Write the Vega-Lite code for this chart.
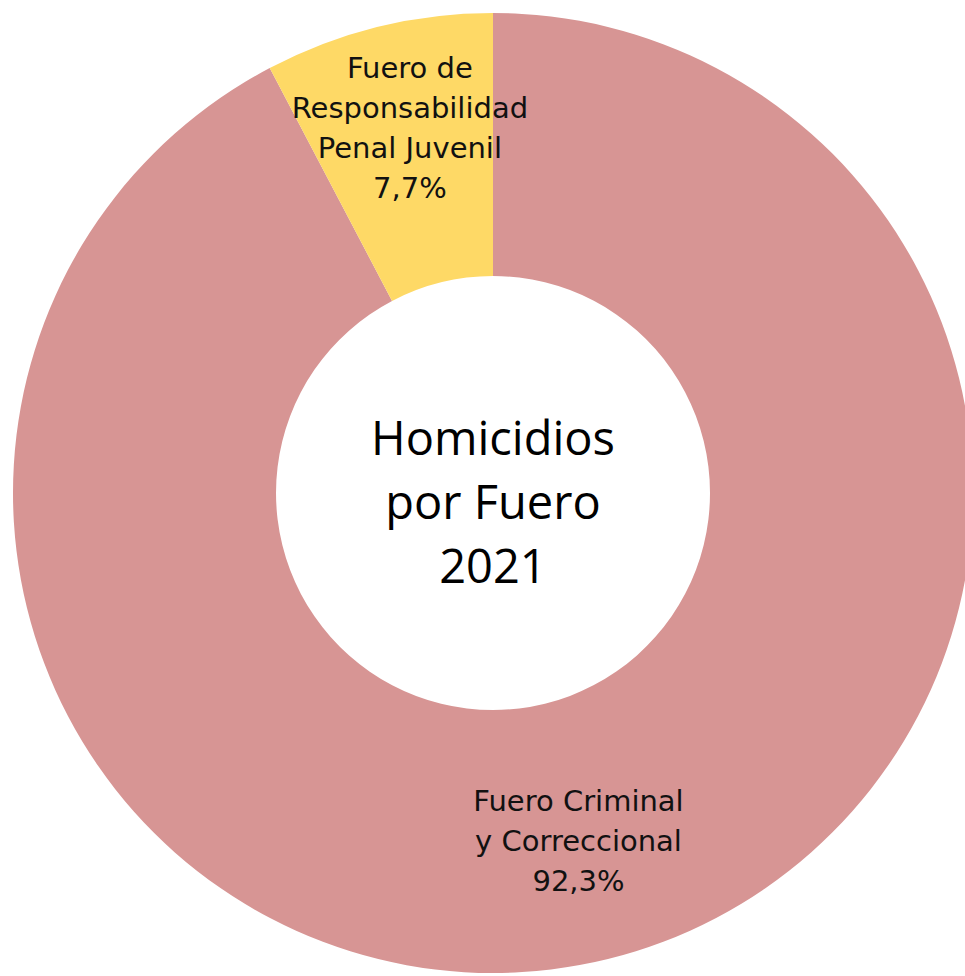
{
  "$schema": "https://vega.github.io/schema/vega-lite/v6.json",
  "width": 986,
  "height": 986,
  "padding": 0,
  "autosize": {"type": "none"},
  "background": "white",
  "view": {"stroke": null},
  "config": {"font": "DejaVu Sans"},
  "layer": [
    {
      "data": {"values": [
        {"fuero": "Fuero Criminal y Correccional", "orden": 1, "pct": 92.3, "etiqueta": ["Fuero Criminal", "y Correccional", "92,3%"]},
        {"fuero": "Fuero de Responsabilidad Penal Juvenil", "orden": 2, "pct": 7.7, "etiqueta": ["Fuero de", "Responsabilidad", "Penal Juvenil", "7,7%"]}
      ]},
      "layer": [
        {
          "mark": {"type": "arc", "outerRadius": 480, "innerRadius": 217},
          "encoding": {
            "theta": {"field": "pct", "type": "quantitative", "stack": true},
            "order": {"field": "orden", "type": "quantitative"},
            "color": {
              "field": "fuero", "type": "nominal", "legend": null,
              "scale": {"domain": ["Fuero Criminal y Correccional", "Fuero de Responsabilidad Penal Juvenil"], "range": ["#D79594", "#FED966"]}
            }
          }
        },
        {
          "mark": {"type": "text", "fontSize": 29, "lineHeight": 40, "align": "center", "baseline": "middle", "color": "#111111", "radius": 372, "dy": -63, "dx": 6},
          "encoding": {
            "theta": {"field": "pct", "type": "quantitative", "stack": true},
            "order": {"field": "orden", "type": "quantitative"},
            "text": {"condition": {"test": "datum.orden == 2", "field": "etiqueta"}, "value": ""}
          }
        },
        {
          "mark": {"type": "text", "fontSize": 29, "lineHeight": 40, "align": "center", "baseline": "middle", "color": "#111111", "radius": 357, "dy": -38},
          "encoding": {
            "theta": {"field": "pct", "type": "quantitative", "stack": true},
            "order": {"field": "orden", "type": "quantitative"},
            "text": {"condition": {"test": "datum.orden == 1", "field": "etiqueta"}, "value": ""}
          }
        }
      ]
    },
    {
      "data": {"values": [{"titulo": ["Homicidios", "por Fuero", "2021"]}]},
      "mark": {"type": "text", "font": "Open Sans", "fontSize": 47, "lineHeight": 64, "align": "center", "baseline": "middle", "color": "#000000", "dy": -52},
      "encoding": {"text": {"field": "titulo"}}
    }
  ]
}
